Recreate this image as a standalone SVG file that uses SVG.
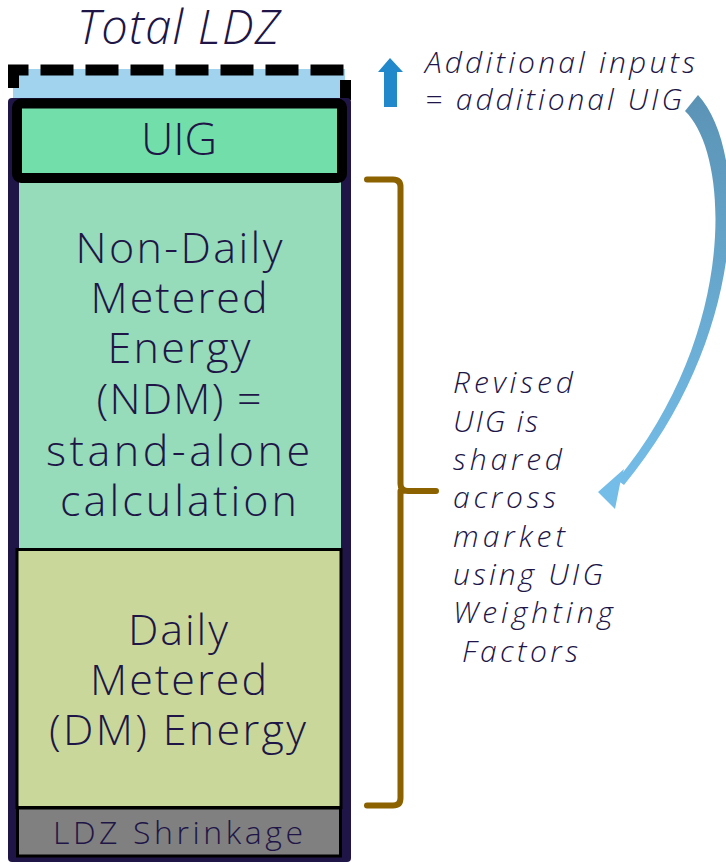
<svg xmlns="http://www.w3.org/2000/svg" width="726" height="863" viewBox="0 0 726 863">
<defs>
<style>
.t{font-family:"Open Sans","Liberation Sans",sans-serif;font-weight:300;fill:#201547;text-anchor:middle}
.it{font-family:"Open Sans","Liberation Sans",sans-serif;font-weight:300;font-style:italic;fill:#201547}
</style>
<linearGradient id="cg" x1="0" y1="0" x2="0" y2="1">
<stop offset="0" stop-color="#5B93B5"/>
<stop offset="1" stop-color="#74BDE8"/>
</linearGradient>
</defs>
<rect width="726" height="863" fill="#ffffff"/>
<g id="title"><text class="it" x="77" y="44" font-size="47" textLength="203" lengthAdjust="spacing">Total LDZ</text></g>
<g id="container">
<rect x="13" y="69" width="332" height="30" fill="#A1D3EF"/>
<path d="M13.5,88 V70 H345.5 V100" fill="none" stroke="#000" stroke-width="11" stroke-dasharray="33 12"/>
<rect x="8" y="98" width="343" height="764" rx="4" fill="#201547"/>
</g>
<g id="ndm">
<rect x="19" y="180" width="322" height="370" fill="#96DBBA"/>
<text class="t" x="179" y="263" font-size="43" textLength="207" lengthAdjust="spacing">Non-Daily</text>
<text class="t" x="179" y="313" font-size="43" textLength="177" lengthAdjust="spacing">Metered</text>
<text class="t" x="179" y="363" font-size="43" textLength="143" lengthAdjust="spacing">Energy</text>
<text class="t" x="179" y="414" font-size="43" textLength="165" lengthAdjust="spacing">(NDM) =</text>
<text class="t" x="178" y="466" font-size="43" textLength="264" lengthAdjust="spacing">stand-alone</text>
<text class="t" x="178.5" y="516" font-size="43" textLength="237" lengthAdjust="spacing">calculation</text>
</g>
<g id="uig">
<rect x="17" y="103.5" width="325" height="74.5" rx="4" fill="#72DEAA" stroke="#000" stroke-width="10"/>
<text class="t" x="179" y="155" font-size="45" textLength="76" lengthAdjust="spacing">UIG</text>
</g>
<g id="dm">
<rect x="17" y="549.5" width="324" height="258" fill="#C9D89A" stroke="#000" stroke-width="3"/>
<text class="t" x="178" y="645" font-size="43" textLength="100" lengthAdjust="spacing">Daily</text>
<text class="t" x="178.5" y="695" font-size="43" textLength="177" lengthAdjust="spacing">Metered</text>
<text class="t" x="177.5" y="745" font-size="43" textLength="257" lengthAdjust="spacing">(DM) Energy</text>
</g>
<g id="shrinkage">
<rect x="17.5" y="808" width="323" height="48" fill="#808080" stroke="#000" stroke-width="3"/>
<text class="t" x="178" y="844" font-size="32" textLength="250" lengthAdjust="spacing">LDZ Shrinkage</text>
</g>
<g id="notes">
<text class="it" x="425" y="73" font-size="30" textLength="270" lengthAdjust="spacing">Additional inputs</text>
<text class="it" x="425" y="110" font-size="30" textLength="257" lengthAdjust="spacing">= additional UIG</text>
<text class="it" x="453" y="393" font-size="30" textLength="120" lengthAdjust="spacing">Revised</text>
<text class="it" x="453" y="432" font-size="30" textLength="85" lengthAdjust="spacing">UIG is</text>
<text class="it" x="453" y="470" font-size="30" textLength="109" lengthAdjust="spacing">shared</text>
<text class="it" x="453" y="508" font-size="30" textLength="103" lengthAdjust="spacing">across</text>
<text class="it" x="453" y="547" font-size="30" textLength="112" lengthAdjust="spacing">market</text>
<text class="it" x="453" y="585" font-size="30" textLength="150" lengthAdjust="spacing">using UIG</text>
<text class="it" x="453" y="623" font-size="30" textLength="160" lengthAdjust="spacing">Weighting</text>
<text class="it" x="462" y="662" font-size="30" textLength="116" lengthAdjust="spacing">Factors</text>
</g>
<g id="connectors">
<polygon points="390,58 403,72 397,72 397,107 384,107 384,72 378,72" fill="#2288CC"/>
<path d="M367,179.5 H393 Q400.5,179.5 400.5,187 V484 Q400.5,491 408,491 H436 M400.5,491 Q400.5,498 400.5,505 V798 Q400.5,805.5 393,805.5 H367" fill="none" stroke="#8C6100" stroke-width="6" stroke-linecap="round" stroke-linejoin="round"/>
<path d="M698,95 C749,150 749,335 624,485 L617,480 C737,335 731,155 685,111 Z" fill="url(#cg)"/>
<polygon points="598,492 624,469 620,484 615,509" fill="#74BDE8"/>
</g>
</svg>
